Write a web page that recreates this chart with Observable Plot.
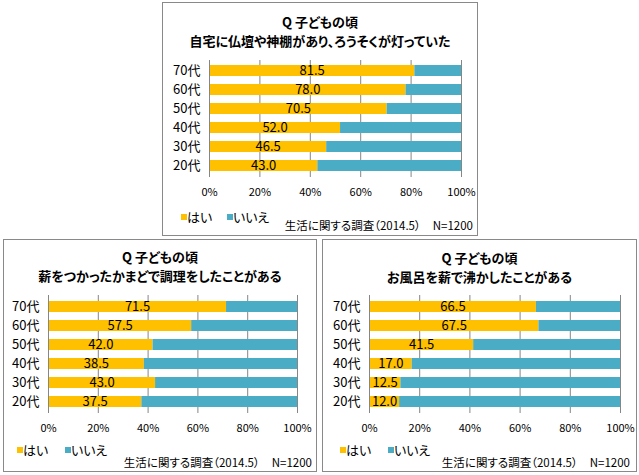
<!DOCTYPE html>
<html>
<head>
<meta charset="utf-8">
<script src="https://cdn.jsdelivr.net/npm/d3@7"></script>
<script src="https://cdn.jsdelivr.net/npm/@observablehq/plot@0.6"></script>
<style>
  html, body { margin: 0; padding: 0; background: #fff; }
  #root { position: relative; width: 639px; height: 475px; font-family: "Noto Sans CJK JP", sans-serif; color: #000; overflow: hidden; font-feature-settings: "palt"; }
  .panel { position: absolute; border: 1px solid #898989; box-sizing: border-box; background: #fff; }
  .title { position: absolute; text-align: center; font-weight: bold; font-size: 13px; line-height: 19px; white-space: nowrap; }
  .abs { position: absolute; }
  .leg { position: absolute; font-size: 13px; line-height: 16px; white-space: nowrap; }
  .sw { position: absolute; width: 6px; height: 6px; }
  .cap { position: absolute; font-size: 11.5px; line-height: 14px; white-space: nowrap; text-align: right; }
</style>
</head>
<body>
<div id="root"></div>
<script>
const ages = ["70代", "60代", "50代", "40代", "30代", "20代"];
const answers = ["はい", "いいえ"];
const answerColors = ["#FFC000", "#4BACC6"];
const xTicks = [0, 20, 40, 60, 80, 100];

const yes1 = [81.5, 78.0, 70.5, 52.0, 46.5, 43.0];
const yes2 = [71.5, 57.5, 42.0, 38.5, 43.0, 37.5];
const yes3 = [66.5, 67.5, 41.5, 17.0, 12.5, 12.0];

const titleQ = "Q 子どもの頃";
const title1 = "自宅に仏壇や神棚があり、ろうそくが灯っていた";
const title2 = "薪をつかったかまどで調理をしたことがある";
const title3 = "お風呂を薪で沸かしたことがある";
const captionText = "生活に関する調査（2014.5）";
const captionN = "N=1200";

const root = document.getElementById("root");

function el(cls, style, html) {
  const d = document.createElement("div");
  d.className = cls;
  Object.assign(d.style, style);
  if (html != null) d.innerHTML = html;
  root.appendChild(d);
  return d;
}

function makePanel(cfg) {
  const b = cfg.box;
  el("panel", {left: b.x + "px", top: b.y + "px", width: b.w + "px", height: b.h + "px"});
  el("title", {left: b.x + "px", width: b.w + "px", top: cfg.titleTop + "px"}, titleQ + "<br>" + cfg.title);

  const table = ages.flatMap((a, i) => [
    {age: a, answer: answers[0], value: cfg.yes[i]},
    {age: a, answer: answers[1], value: +(100 - cfg.yes[i]).toFixed(1)}
  ]);
  const labels = ages.map((a, i) => ({age: a, yes: cfg.yes[i]}));

  const svg = Plot.plot({
    width: cfg.svg.w,
    height: cfg.svg.h,
    marginLeft: cfg.svg.ml,
    marginRight: cfg.svg.mr,
    marginTop: cfg.svg.mt,
    marginBottom: cfg.svg.mb,
    x: {domain: [0, 100], ticks: xTicks, label: null},
    y: {domain: ages, paddingInner: 0.4, paddingOuter: 0.2, label: null},
    color: {domain: answers, range: answerColors},
    style: {fontFamily: '"Noto Sans CJK JP", sans-serif', fontSize: "12px", color: "#000", background: "transparent", overflow: "visible"},
    marks: [
      Plot.gridX(xTicks.slice(1), {stroke: "#868686", strokeOpacity: 1}),
      Plot.barX(table, {x: "value", y: "age", fill: "answer"}),
      Plot.ruleX([0], {stroke: "#868686", strokeWidth: 1}),
      Plot.text(labels, {x: d => d.yes / 2, y: "age", text: d => d.yes.toFixed(1), fontSize: 13, fill: "#000"}),
      Plot.axisX(xTicks, {tickSize: 0, tickPadding: 11, tickFormat: d => d + "%", fontSize: 11, label: null}),
      Plot.axisY({tickSize: 0, tickPadding: 9, fontSize: 13, label: null})
    ]
  });
  const holder = el("abs", {left: cfg.svg.x + "px", top: cfg.svg.y + "px"});
  holder.appendChild(svg);

  // legend
  const L = cfg.legend;
  el("sw", {left: L.sq1 + "px", top: (L.y - 3) + "px", background: answerColors[0]});
  el("leg", {left: L.t1 + "px", top: (L.y - 8) + "px"}, answers[0]);
  el("sw", {left: L.sq2 + "px", top: (L.y - 3) + "px", background: answerColors[1]});
  el("leg", {left: L.t2 + "px", top: (L.y - 8) + "px"}, answers[1]);

  // caption
  el("cap", {left: (cfg.capRight - 300) + "px", width: "300px", top: (cfg.capY - 7) + "px"},
     captionText + '<span style="display:inline-block;width:12px"></span>' + captionN);
}

makePanel({
  box: {x: 162, y: 2, w: 316, h: 234},
  titleTop: 12,
  title: title1,
  yes: yes1,
  svg: {x: 163, y: 50, w: 314, h: 152, ml: 46, mr: 16, mt: 10, mb: 25},
  legend: {y: 217, sq1: 181, t1: 187, sq2: 227, t2: 233},
  capRight: 473, capY: 225
});

makePanel({
  box: {x: 3, y: 239, w: 314, h: 233},
  titleTop: 247,
  title: title2,
  yes: yes2,
  svg: {x: 4, y: 285, w: 312, h: 153, ml: 44, mr: 19, mt: 10, mb: 25},
  legend: {y: 450, sq1: 17, t1: 23, sq2: 65, t2: 71},
  capRight: 312, capY: 462
});

makePanel({
  box: {x: 322, y: 239, w: 315, h: 233},
  titleTop: 248,
  title: title3,
  yes: yes3,
  svg: {x: 323, y: 285, w: 313, h: 153, ml: 46, mr: 16, mt: 10, mb: 25},
  legend: {y: 450, sq1: 340, t1: 346, sq2: 388, t2: 394},
  capRight: 630, capY: 462
});
</script>
</body>
</html>
